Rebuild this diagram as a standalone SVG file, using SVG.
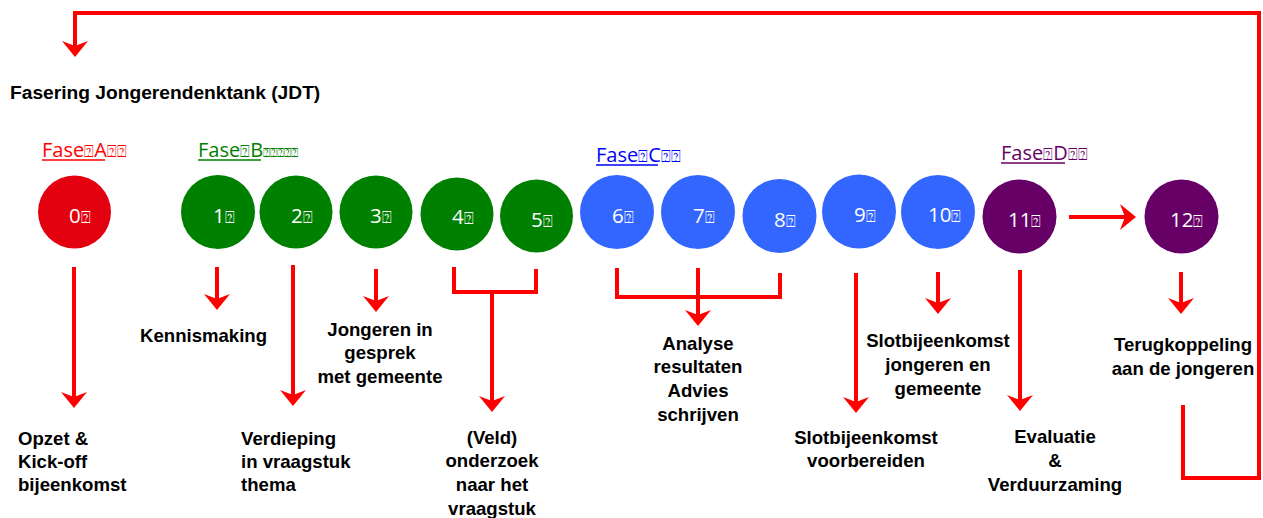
<svg xmlns="http://www.w3.org/2000/svg" width="1263" height="518" viewBox="0 0 1263 518">
<style>
.lbl{font-family:"Liberation Sans",Arial,sans-serif;font-weight:bold;font-size:18.6px;fill:#000}
.mid{text-anchor:middle}
.num{font-family:"Open Sans","Noto Sans",sans-serif;font-size:20.5px;fill:#fff}
.fase{font-family:"Open Sans","Noto Sans",sans-serif;font-size:20px}
.sm{font-size:16px}
.xs{font-size:12px}
.con{fill:none;stroke:#ff0000;stroke-width:4}
.arr{marker-end:url(#ah)}
</style>
<defs>
<marker id="ah" viewBox="0 0 16 26" refX="6" refY="13" markerWidth="16" markerHeight="26" markerUnits="userSpaceOnUse" orient="auto">
<path d="M0,0 L16,13 L0,26 L5,13 z" fill="#ff0000"/>
</marker>
</defs>
<rect width="1263" height="518" fill="#fff"/>
<text x="10" y="99" class="lbl" style="font-size:19.2px">Fasering Jongerendenktank (JDT)</text>

<g id="fase-a"><text x="42" y="157" class="fase" fill="#ff0000">Fase<tspan class="sm">⍰</tspan>A<tspan class="sm">⍰⍰</tspan></text><line x1="42" y1="160" x2="105" y2="160" stroke="#ff0000" stroke-width="1.5"/></g>
<g id="fase-b"><text x="198" y="157" class="fase" fill="#008000">Fase<tspan class="sm">⍰</tspan>B<tspan class="xs">⍰⍰⍰⍰⍰</tspan></text><line x1="198" y1="160" x2="261" y2="160" stroke="#008000" stroke-width="1.5"/></g>
<g id="fase-c"><text x="596" y="162" class="fase" fill="#0000ff">Fase<tspan class="sm">⍰</tspan>C<tspan class="sm">⍰⍰</tspan></text><line x1="596" y1="165" x2="658" y2="165" stroke="#0000ff" stroke-width="1.5"/></g>
<g id="fase-d"><text x="1001" y="160" class="fase" fill="#660066">Fase<tspan class="sm">⍰</tspan>D<tspan class="sm">⍰⍰</tspan></text><line x1="1001" y1="163" x2="1065" y2="163" stroke="#660066" stroke-width="1.5"/></g>

<g id="n0"><circle cx="74.5" cy="212" r="36.5" fill="#e3000f"/><text x="69" y="223" class="num">0<tspan class="sm">⍰</tspan></text></g>
<g id="n1"><circle cx="218" cy="212" r="37" fill="#008000"/><text x="213" y="223" class="num">1<tspan class="sm">⍰</tspan></text></g>
<g id="n2"><circle cx="296" cy="212" r="36.5" fill="#008000"/><text x="291" y="223" class="num">2<tspan class="sm">⍰</tspan></text></g>
<g id="n3"><circle cx="376" cy="212" r="36.5" fill="#008000"/><text x="370" y="223" class="num">3<tspan class="sm">⍰</tspan></text></g>
<g id="n4"><circle cx="457" cy="214" r="36.5" fill="#008000"/><text x="452" y="224" class="num">4<tspan class="sm">⍰</tspan></text></g>
<g id="n5"><circle cx="536.5" cy="216" r="36.5" fill="#008000"/><text x="531" y="227" class="num">5<tspan class="sm">⍰</tspan></text></g>
<g id="n6"><circle cx="617" cy="212" r="37" fill="#3366ff"/><text x="612" y="223" class="num">6<tspan class="sm">⍰</tspan></text></g>
<g id="n7"><circle cx="698" cy="212" r="37" fill="#3366ff"/><text x="693" y="223" class="num">7<tspan class="sm">⍰</tspan></text></g>
<g id="n8"><circle cx="779.5" cy="216" r="37" fill="#3366ff"/><text x="774" y="227" class="num">8<tspan class="sm">⍰</tspan></text></g>
<g id="n9"><circle cx="859" cy="211.5" r="37" fill="#3366ff"/><text x="854" y="222" class="num">9<tspan class="sm">⍰</tspan></text></g>
<g id="n10"><circle cx="938" cy="212" r="37" fill="#3366ff"/><text x="928" y="222" class="num">10<tspan class="sm">⍰</tspan></text></g>
<g id="n11"><circle cx="1019.5" cy="216.5" r="37" fill="#660066"/><text x="1008" y="227" class="num">11<tspan class="sm">⍰</tspan></text></g>
<g id="n12"><circle cx="1181.5" cy="216.5" r="37" fill="#660066"/><text x="1170" y="227" class="num">12<tspan class="sm">⍰</tspan></text></g>

<g id="connectors">
<path class="con arr" d="M1183,405 V478 H1259 V13 H75 V47"/>
<path class="con arr" d="M74,267 V398"/>
<path class="con arr" d="M217,267 V300"/>
<path class="con arr" d="M293,265 V396"/>
<path class="con arr" d="M376,269 V302"/>
<path class="con" d="M454,267 V292 H536 V269"/>
<path class="con arr" d="M492,292 V402"/>
<path class="con" d="M617,268 V297 H780 V273"/>
<path class="con arr" d="M698,268 V316"/>
<path class="con arr" d="M856,273 V403"/>
<path class="con arr" d="M938,272 V304"/>
<path class="con arr" d="M1020,270 V401"/>
<path class="con arr" d="M1181,272 V304"/>
<path class="con arr" d="M1069,217 H1126"/>
</g>

<g id="t0"><text class="lbl" x="18" y="445">Opzet &amp;</text><text class="lbl" x="18" y="468">Kick-off</text><text class="lbl" x="18" y="491">bijeenkomst</text></g>
<g id="t1"><text class="lbl" x="140" y="342">Kennismaking</text></g>
<g id="t2"><text class="lbl" x="241" y="445">Verdieping</text><text class="lbl" x="241" y="468">in vraagstuk</text><text class="lbl" x="241" y="491">thema</text></g>
<g id="t3"><text class="lbl mid" x="380" y="336">Jongeren in</text><text class="lbl mid" x="380" y="359">gesprek</text><text class="lbl mid" x="380" y="383">met gemeente</text></g>
<g id="t45"><text class="lbl mid" x="492" y="444">(Veld)</text><text class="lbl mid" x="492" y="467">onderzoek</text><text class="lbl mid" x="492" y="491">naar het</text><text class="lbl mid" x="492" y="515">vraagstuk</text></g>
<g id="t678"><text class="lbl mid" x="698" y="350">Analyse</text><text class="lbl mid" x="698" y="373">resultaten</text><text class="lbl mid" x="698" y="397">Advies</text><text class="lbl mid" x="698" y="421">schrijven</text></g>
<g id="t9"><text class="lbl mid" x="866" y="444">Slotbijeenkomst</text><text class="lbl mid" x="866" y="467">voorbereiden</text></g>
<g id="t10"><text class="lbl mid" x="938" y="347">Slotbijeenkomst</text><text class="lbl mid" x="938" y="371">jongeren en</text><text class="lbl mid" x="938" y="395">gemeente</text></g>
<g id="t11"><text class="lbl mid" x="1055" y="443">Evaluatie</text><text class="lbl mid" x="1055" y="467">&amp;</text><text class="lbl mid" x="1055" y="491">Verduurzaming</text></g>
<g id="t12"><text class="lbl mid" x="1183" y="351">Terugkoppeling</text><text class="lbl mid" x="1183" y="375">aan de jongeren</text></g>
</svg>
